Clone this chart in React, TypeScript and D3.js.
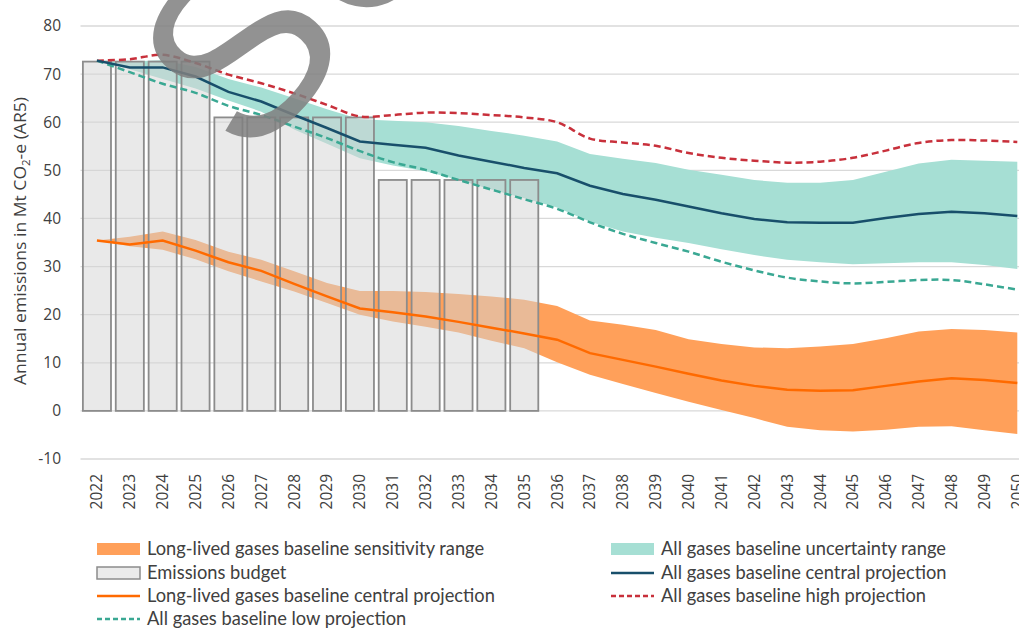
import React from "react";
import * as d3 from "d3";

const years = ["2022","2023","2024","2025","2026","2027","2028","2029","2030","2031","2032","2033","2034","2035","2036","2037","2038","2039","2040","2041","2042","2043","2044","2045","2046","2047","2048","2049","2050"];
const budgetYears = ["2022","2023","2024","2025","2026","2027","2028","2029","2030","2031","2032","2033","2034","2035"];
const budget = [72.6,72.6,72.6,72.6,61,61,61,61,61,48,48,48,48,48];
const allCentral = [72.8,71.4,71.4,69.5,66.3,64.3,61.5,58.8,56.0,55.3,54.7,53.1,51.8,50.5,49.4,46.8,45.1,43.9,42.5,41.1,39.9,39.2,39.1,39.1,40.1,40.9,41.4,41.1,40.5];
const allHigh = [72.8,73.1,74.0,72.3,69.9,68.1,66.0,63.6,61.2,61.5,62.0,61.9,61.5,61.0,60.0,56.6,55.8,55.1,53.6,52.6,52.0,51.6,51.8,52.6,54.1,55.7,56.3,56.2,55.9];
const allLow = [72.8,70.4,68.0,66.1,63.4,61.5,59.1,56.7,54.0,51.7,50.1,48.0,46.0,44.0,42.0,39.2,36.8,34.9,33.1,31.0,29.2,27.7,26.9,26.5,26.8,27.2,27.2,26.3,25.2];
const allRangeHigh = [72.8,72.6,72.9,71.5,69.0,67.2,65.0,62.7,60.6,60.3,60.0,59.2,58.2,57.2,56.0,53.4,52.4,51.5,50.1,49.1,48.0,47.4,47.4,48.0,49.7,51.4,52.2,52.0,51.8];
const allRangeLow = [72.8,71.0,69.0,67.0,64.5,62.2,58.5,55.5,52.5,51.0,49.8,48.0,46.0,44.2,42.3,39.3,37.3,36.0,34.9,33.6,32.4,31.4,30.9,30.5,30.7,30.9,30.9,30.3,29.5];
const llCentral = [35.4,34.6,35.4,33.3,30.9,29.1,26.4,23.8,21.3,20.5,19.6,18.5,17.3,16.1,14.8,12.0,10.6,9.2,7.7,6.3,5.2,4.4,4.2,4.3,5.2,6.1,6.8,6.4,5.8];
const llRangeHigh = [35.4,36.2,37.3,35.5,33.1,31.4,29.0,26.6,24.9,24.9,24.7,24.3,23.8,23.1,21.8,18.8,17.9,16.8,14.9,13.9,13.2,13.0,13.4,13.9,15.1,16.5,17.0,16.8,16.3];
const llRangeLow = [35.4,34.2,33.5,31.5,29.0,26.9,24.8,22.4,20.0,18.6,17.5,16.3,14.6,13.0,10.1,7.5,5.6,3.7,1.9,0.2,-1.5,-3.3,-4.0,-4.3,-3.9,-3.3,-3.2,-4.0,-4.8];
const yTicks = [-10,0,10,20,30,40,50,60,70,80];

const C = {
  orangeArea: "#ffa05a",
  orangeLine: "#ff6a00",
  tealArea: "#a6dfd4",
  navy: "#184f6b",
  red: "#c8303b",
  tealDash: "#3aa893",
  barFill: "#d4d4d4",
  barStroke: "#8c8c8c",
  grid: "#d9d9d9",
  text: "#404040",
};

export default function App() {
  const W = 1019, H = 628;
  const x = d3.scaleBand<string>().domain(years).range([80.5, 80.5 + 29 * 32.87]).padding(0);
  const bw = x.bandwidth();
  const cx = (yr: string) => (x(yr) as number) + bw / 2;
  const y = d3.scaleLinear().domain([-10, 80]).range([459, 26]);

  const lineStraight = d3.line<number>().x((_, i) => cx(years[i])).y((v) => y(v));
  const lineSmooth = d3.line<number>().x((_, i) => cx(years[i])).y((v) => y(v)).curve(d3.curveCatmullRom.alpha(0.5));
  const area = (hi: number[], lo: number[]) =>
    d3.area<number>().x((_, i) => cx(years[i])).y0((_, i) => y(lo[i])).y1((_, i) => y(hi[i]))(hi) || "";

  const font = "'Open Sans', sans-serif";
  const legFont = "Lato, 'Open Sans', sans-serif";

  const leftX = 97, rightX = 611, swW = 43, textOff = 50;
  const rows = [549, 573, 596, 619];

  return (
    <svg width={W} height={H} style={{ position: "absolute", left: 0, top: 0, background: "#fff" }}>
      <g>
        {yTicks.map((t) => (
          <line key={"g" + t} x1={80.5} x2={W} y1={y(t)} y2={y(t)} stroke={C.grid} strokeWidth={1.3} />
        ))}
      </g>
      <path d={area(llRangeHigh, llRangeLow)} fill={C.orangeArea} />
      <path d={area(allRangeHigh, allRangeLow)} fill={C.tealArea} />
      <g>
        {budgetYears.map((yr, i) => (
          <rect key={yr} x={(x(yr) as number) + bw * 0.0725} width={bw * 0.855} y={y(budget[i])} height={y(0) - y(budget[i])}
            fill={C.barFill} fillOpacity={0.5} stroke={C.barStroke} strokeWidth={1.8} />
        ))}
      </g>
      <path d={lineSmooth(allHigh) || ""} fill="none" stroke={C.red} strokeWidth={2.5} strokeDasharray="7 4" />
      <path d={lineSmooth(allLow) || ""} fill="none" stroke={C.tealDash} strokeWidth={2.5} strokeDasharray="7 4" />
      <path d={lineStraight(allCentral) || ""} fill="none" stroke={C.navy} strokeWidth={2.5} />
      <path d={lineStraight(llCentral) || ""} fill="none" stroke={C.orangeLine} strokeWidth={2.5} />

      <g fontFamily={font} fontSize={15.5} fill={C.text}>
        {yTicks.map((t) => (
          <text key={"t" + t} x={61} y={y(t)} dy="0.35em" textAnchor="end">{t}</text>
        ))}
        {years.map((yr) => (
          <text key={"x" + yr} transform={`translate(${cx(yr)},474) rotate(-90)`} dy="0.35em" textAnchor="end">{yr}</text>
        ))}
        <text transform="translate(20,241) rotate(-90)" textAnchor="middle" dy="0.35em" fontSize={16}
          textLength={288} lengthAdjust="spacingAndGlyphs">
          Annual emissions in Mt CO<tspan fontSize={10.5} dy="4">2</tspan><tspan dy="-4">-e (AR5)</tspan>
        </text>
      </g>

      <g fontFamily={legFont} fontSize={18.3} fill={C.text}>
        <rect x={leftX} y={rows[0] - 6} width={swW} height={12} fill={C.orangeArea} />
        <text x={leftX + textOff} y={rows[0]} dy="0.35em">Long-lived gases baseline sensitivity range</text>
        <rect x={leftX} y={rows[1] - 6} width={swW} height={12} fill="#ebebeb" stroke={C.barStroke} strokeWidth={1.5} />
        <text x={leftX + textOff} y={rows[1]} dy="0.35em">Emissions budget</text>
        <line x1={leftX} x2={leftX + swW} y1={rows[2]} y2={rows[2]} stroke={C.orangeLine} strokeWidth={2.5} />
        <text x={leftX + textOff} y={rows[2]} dy="0.35em">Long-lived gases baseline central projection</text>
        <line x1={leftX} x2={leftX + swW} y1={rows[3]} y2={rows[3]} stroke={C.tealDash} strokeWidth={2.5} strokeDasharray="5 3" />
        <text x={leftX + textOff} y={rows[3]} dy="0.35em">All gases baseline low projection</text>

        <rect x={rightX} y={rows[0] - 6} width={swW} height={12} fill={C.tealArea} />
        <text x={rightX + textOff} y={rows[0]} dy="0.35em">All gases baseline uncertainty range</text>
        <line x1={rightX} x2={rightX + swW} y1={rows[1]} y2={rows[1]} stroke={C.navy} strokeWidth={2.5} />
        <text x={rightX + textOff} y={rows[1]} dy="0.35em">All gases baseline central projection</text>
        <line x1={rightX} x2={rightX + swW} y1={rows[2]} y2={rows[2]} stroke={C.red} strokeWidth={2.5} strokeDasharray="5 3" />
        <text x={rightX + textOff} y={rows[2]} dy="0.35em">All gases baseline high projection</text>
      </g>

      <text transform="translate(248,166) rotate(-48)" fontFamily="'Liberation Sans', Arial, sans-serif" fontSize={245}
        fill="#7f7f7f" fillOpacity={0.85}>SUPERSEDED</text>
    </svg>
  );
}
